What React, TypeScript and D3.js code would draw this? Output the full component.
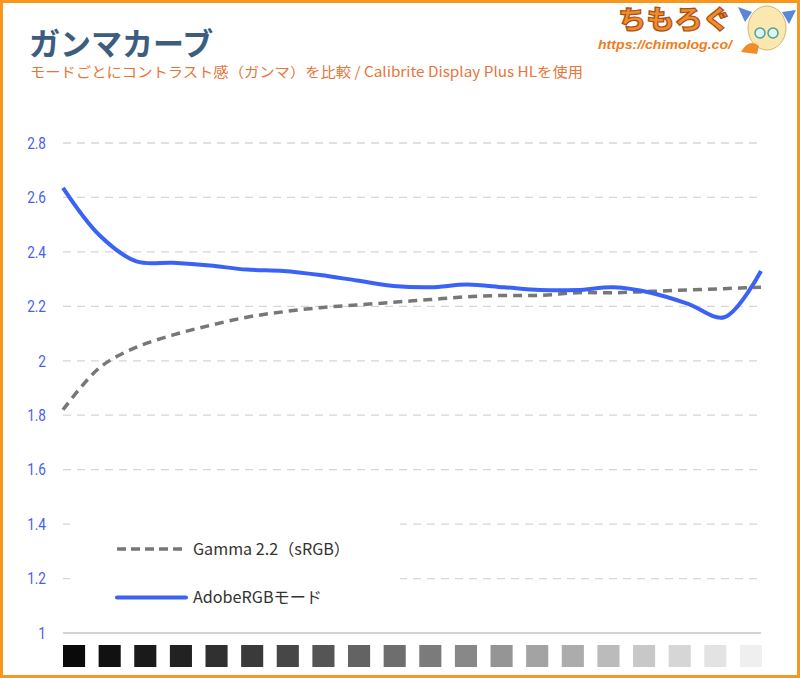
import React from "react";
import * as d3 from "d3";

const levels = [
  "0%", "5%", "10%", "15%", "20%", "25%", "30%", "35%", "40%", "45%",
  "50%", "55%", "60%", "65%", "70%", "75%", "80%", "85%", "90%", "95%",
];
const gammaRef = [
  1.82, 1.975, 2.05, 2.095, 2.13, 2.16, 2.18, 2.195, 2.205, 2.215,
  2.225, 2.235, 2.24, 2.24, 2.25, 2.25, 2.255, 2.26, 2.265, 2.27,
];
const adobeRGB = [
  2.635, 2.46, 2.365, 2.36, 2.35, 2.335, 2.33, 2.315, 2.295, 2.275,
  2.27, 2.28, 2.27, 2.26, 2.26, 2.27, 2.25, 2.21, 2.16, 2.33,
];
const swatchShades = [
  10, 17, 26, 34, 48, 58, 71, 85, 99, 110,
  123, 136, 149, 163, 172, 187, 200, 214, 227, 239,
];
const yTicks = [1, 1.2, 1.4, 1.6, 1.8, 2, 2.2, 2.4, 2.6, 2.8];
const seriesNames = ["Gamma 2.2（sRGB）", "AdobeRGBモード"];

const W = 800;
const H = 678;
const left = 63;
const right = 761;
const top = 143;
const bottom = 633;

export default function App() {
  const x = d3.scaleLinear().domain([0, levels.length - 1]).range([left, right]);
  const y = d3.scaleLinear().domain([1, 2.8]).range([bottom, top]);
  const line = d3
    .line<number>()
    .x((_, i) => x(i))
    .y((d) => y(d))
    .curve(d3.curveCatmullRom.alpha(0.5));

  const sw = d3
    .scaleBand<number>()
    .domain(swatchShades.map((_, i) => i))
    .range([left, right + 1])
    .paddingInner(0.38)
    .paddingOuter(0);

  const jp = "'Noto Sans CJK JP', 'Noto Sans', sans-serif";

  return (
    <svg
      width={W}
      height={H}
      style={{ position: "absolute", left: 0, top: 0 }}
      fontFamily={jp}
    >
      <rect x={0} y={0} width={W} height={H} fill="#fff" />
      <rect x={1.5} y={1.5} width={W - 3} height={H - 3} fill="none" stroke="#f7971e" strokeWidth={3} />

      {/* Title */}
      <text x={29} y={55} fontSize={31} fontWeight={700} fill="#3d5d7e">
        ガンマカーブ
      </text>
      <text x={30} y={77} fontSize={14} fill="#e9743a" textLength={553} lengthAdjust="spacingAndGlyphs">
        モードごとにコントラスト感（ガンマ）を比較 / Calibrite Display Plus HLを使用
      </text>

      {/* Logo */}
      <text
        x={618}
        y={29}
        fontSize={26}
        fontWeight={900}
        fill="#f28c28"
        stroke="#a8501a"
        strokeWidth={1.2}
        textLength={113}
        lengthAdjust="spacingAndGlyphs"
      >
        ちもろぐ
      </text>
      <text
        x={598}
        y={49}
        fontSize={12.5}
        fontWeight={700}
        fontStyle="italic"
        fill="#f07d1a"
        fontFamily="'Liberation Sans', Arial, sans-serif"
        textLength={134}
        lengthAdjust="spacingAndGlyphs"
      >
        https://chimolog.co/
      </text>
      <g>
        <ellipse cx={767} cy={28} rx={19} ry={22} fill="#fbe7b0" stroke="#d9b56a" strokeWidth={1} />
        <path d="M752 12 L738 7 L745 22 Z" fill="#5b86d6" />
        <path d="M782 12 L796 10 L789 24 Z" fill="#5b86d6" />
        <circle cx={760} cy={33} r={5} fill="#dff3f0" stroke="#4aa39a" strokeWidth={1.5} />
        <circle cx={773} cy={33} r={5} fill="#dff3f0" stroke="#4aa39a" strokeWidth={1.5} />
        <path d="M741 52 Q749 38 759 46 L757 54 Z" fill="#f28c28" />
      </g>

      {/* Grid */}
      {yTicks.map((t) =>
        t === 1 ? null : (
          <line
            key={t}
            x1={left}
            x2={right}
            y1={y(t)}
            y2={y(t)}
            stroke="#d6d6d6"
            strokeWidth={1.3}
            strokeDasharray="8,6"
          />
        )
      )}
      <line x1={left} x2={right} y1={y(1)} y2={y(1)} stroke="#d3d3d3" strokeWidth={2} />

      {/* Y labels */}
      {yTicks.map((t) => (
        <text
          key={"l" + t}
          x={46}
          y={y(t)}
          dy="0.36em"
          textAnchor="end"
          fontSize={16}
          fill="#4a5cf0"
          fontFamily="'Roboto', 'Noto Sans', sans-serif"
          transform={`translate(${46 * 0.15},0) scale(0.85,1)`}
        >
          {d3.format("~g")(t)}
        </text>
      ))}

      {/* Legend background */}
      <rect x={70} y={510} width={330} height={112} fill="#fff" />

      {/* Lines */}
      <path
        d={line(gammaRef) || ""}
        fill="none"
        stroke="#777"
        strokeWidth={3.5}
        strokeDasharray="9,6"
      />
      <path
        d={line(adobeRGB) || ""}
        fill="none"
        stroke="#3b62f6"
        strokeWidth={4}
        strokeLinejoin="round"
      />

      {/* Legend */}
      <line x1={117} x2={184} y1={549} y2={549} stroke="#777" strokeWidth={3.5} strokeDasharray="9,5" />
      <text x={193} y={549} dy="0.36em" fontSize={16} fill="#333" textLength={157} lengthAdjust="spacingAndGlyphs">
        {seriesNames[0]}
      </text>
      <line x1={117} x2={186} y1={597.5} y2={597.5} stroke="#3b62f6" strokeWidth={4} strokeLinecap="round" />
      <text x={193} y={597.5} dy="0.36em" fontSize={16} fill="#333" textLength={129} lengthAdjust="spacingAndGlyphs">
        {seriesNames[1]}
      </text>

      {/* Swatches */}
      {swatchShades.map((v, i) => (
        <rect
          key={"s" + i}
          x={sw(i)}
          y={645}
          width={sw.bandwidth()}
          height={22}
          fill={d3.rgb(v, v, v).toString()}
        />
      ))}
    </svg>
  );
}
